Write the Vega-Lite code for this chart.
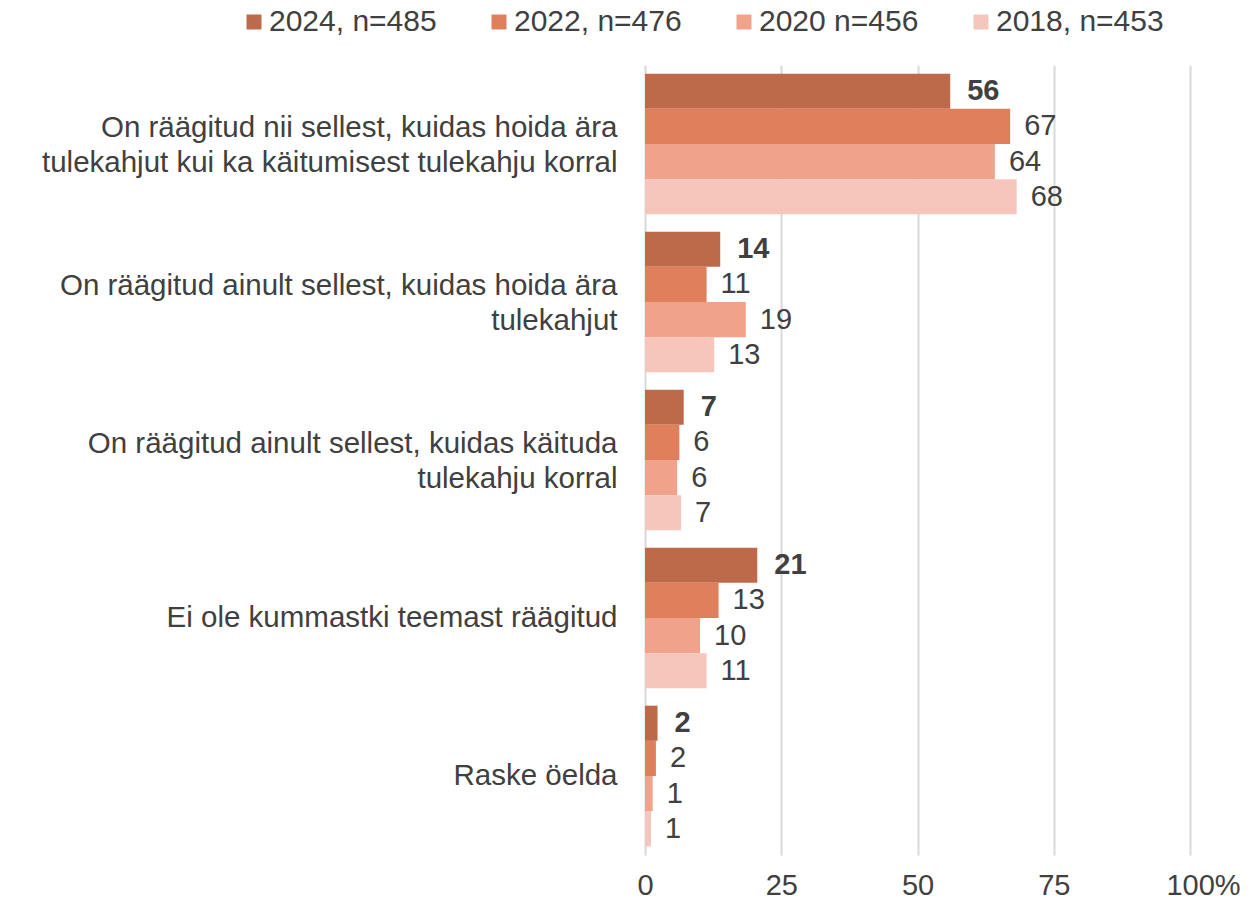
{
  "$schema": "https://vega.github.io/schema/vega-lite/v6.json",
  "width": 545,
  "height": 790,
  "autosize": "none",
  "padding": {"left": 645, "top": 65, "right": 63, "bottom": 54},
  "background": "white",
  "config": {
    "font": "Liberation Sans",
    "view": {"stroke": null}
  },
  "data": {
    "values": [
      {"cat": "On räägitud nii sellest, kuidas hoida ära|tulekahjut kui ka käitumisest tulekahju korral", "year": "2024, n=485", "value": 56.0, "label": 56},
      {"cat": "On räägitud nii sellest, kuidas hoida ära|tulekahjut kui ka käitumisest tulekahju korral", "year": "2022, n=476", "value": 67.0, "label": 67},
      {"cat": "On räägitud nii sellest, kuidas hoida ära|tulekahjut kui ka käitumisest tulekahju korral", "year": "2020 n=456", "value": 64.2, "label": 64},
      {"cat": "On räägitud nii sellest, kuidas hoida ära|tulekahjut kui ka käitumisest tulekahju korral", "year": "2018, n=453", "value": 68.2, "label": 68},
      {"cat": "On räägitud ainult sellest, kuidas hoida ära|tulekahjut", "year": "2024, n=485", "value": 13.8, "label": 14},
      {"cat": "On räägitud ainult sellest, kuidas hoida ära|tulekahjut", "year": "2022, n=476", "value": 11.3, "label": 11},
      {"cat": "On räägitud ainult sellest, kuidas hoida ära|tulekahjut", "year": "2020 n=456", "value": 18.5, "label": 19},
      {"cat": "On räägitud ainult sellest, kuidas hoida ära|tulekahjut", "year": "2018, n=453", "value": 12.7, "label": 13},
      {"cat": "On räägitud ainult sellest, kuidas käituda|tulekahju korral", "year": "2024, n=485", "value": 7.1, "label": 7},
      {"cat": "On räägitud ainult sellest, kuidas käituda|tulekahju korral", "year": "2022, n=476", "value": 6.3, "label": 6},
      {"cat": "On räägitud ainult sellest, kuidas käituda|tulekahju korral", "year": "2020 n=456", "value": 5.9, "label": 6},
      {"cat": "On räägitud ainult sellest, kuidas käituda|tulekahju korral", "year": "2018, n=453", "value": 6.6, "label": 7},
      {"cat": "Ei ole kummastki teemast räägitud", "year": "2024, n=485", "value": 20.6, "label": 21},
      {"cat": "Ei ole kummastki teemast räägitud", "year": "2022, n=476", "value": 13.5, "label": 13},
      {"cat": "Ei ole kummastki teemast räägitud", "year": "2020 n=456", "value": 10.1, "label": 10},
      {"cat": "Ei ole kummastki teemast räägitud", "year": "2018, n=453", "value": 11.3, "label": 11},
      {"cat": "Raske öelda", "year": "2024, n=485", "value": 2.3, "label": 2},
      {"cat": "Raske öelda", "year": "2022, n=476", "value": 2.0, "label": 2},
      {"cat": "Raske öelda", "year": "2020 n=456", "value": 1.4, "label": 1},
      {"cat": "Raske öelda", "year": "2018, n=453", "value": 1.1, "label": 1}
    ]
  },
  "encoding": {
    "y": {
      "field": "cat",
      "type": "nominal",
      "sort": [
        "On räägitud nii sellest, kuidas hoida ära|tulekahjut kui ka käitumisest tulekahju korral",
        "On räägitud ainult sellest, kuidas hoida ära|tulekahjut",
        "On räägitud ainult sellest, kuidas käituda|tulekahju korral",
        "Ei ole kummastki teemast räägitud",
        "Raske öelda"
      ],
      "scale": {"paddingInner": 0.11, "paddingOuter": 0.055},
      "axis": {
        "title": null,
        "domain": false,
        "ticks": false,
        "labelExpr": "split(datum.label, '|')",
        "labelFontSize": 29.5,
        "labelColor": "#404040",
        "labelPadding": 28,
        "labelLineHeight": 35,
        "labelLimit": 700,
        "labelOffset": {"condition": {"test": "indexof(datum.value, '|') >= 0", "value": -16}, "value": 0}
      }
    },
    "yOffset": {
      "field": "year",
      "type": "nominal",
      "scale": {"domain": ["2024, n=485", "2022, n=476", "2020 n=456", "2018, n=453"], "paddingInner": 0, "paddingOuter": 0}
    },
    "x": {
      "field": "value",
      "type": "quantitative",
      "scale": {"domain": [0, 100], "nice": false},
      "axis": {
        "title": null,
        "values": [0, 25, 50, 75, 100],
        "labelExpr": "datum.value == 100 ? '100%' : datum.label",
        "labelFlush": false,
        "labelOverlap": false,
        "labelOffset": {"condition": {"test": "datum.value == 100", "value": 13}, "value": 0},
        "domain": false,
        "ticks": false,
        "grid": true,
        "gridColor": "#d9d9d9",
        "gridWidth": 2,
        "labelFontSize": 29,
        "labelColor": "#404040",
        "labelPadding": 16
      }
    }
  },
  "layer": [
    {
      "mark": {"type": "bar"},
      "encoding": {
        "color": {
          "field": "year",
          "type": "nominal",
          "scale": {
            "domain": ["2024, n=485", "2022, n=476", "2020 n=456", "2018, n=453"],
            "range": ["#bc6a4a", "#e07f5c", "#f0a28a", "#f6c6bc"]
          },
          "legend": {
            "title": null,
            "orient": "none",
            "direction": "horizontal",
            "legendX": -406,
            "legendY": -58,
            "symbolType": "square",
            "symbolSize": 225,
            "symbolStrokeWidth": 0,
            "labelFontSize": 30,
            "labelColor": "#404040",
            "labelOffset": 0,
            "columnPadding": 47,
            "labelLimit": 300
          }
        }
      }
    },
    {
      "transform": [{"filter": "indexof(datum.year, '2024') == 0"}],
      "mark": {"type": "text", "align": "left", "baseline": "middle", "dx": 17, "fontSize": 29, "fontWeight": "bold", "color": "#404040"},
      "encoding": {"text": {"field": "label", "type": "quantitative"}}
    },
    {
      "transform": [{"filter": "indexof(datum.year, '2024') != 0"}],
      "mark": {"type": "text", "align": "left", "baseline": "middle", "dx": 14, "fontSize": 29, "color": "#404040"},
      "encoding": {"text": {"field": "label", "type": "quantitative"}}
    }
  ]
}
